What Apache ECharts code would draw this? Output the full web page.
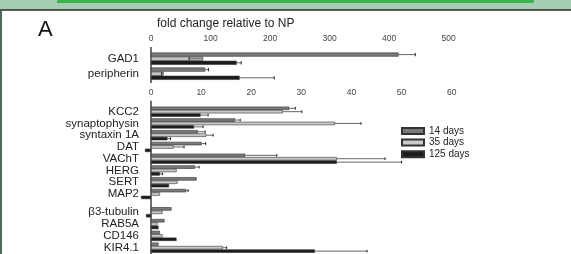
<!DOCTYPE html>
<html lang="en">
<head>
<meta charset="UTF-8">
<title>fold change relative to NP</title>
<style>
  body { margin: 0; background: #fff; }
  #chart { width: 571px; height: 254px; }
</style>
<script src="https://cdn.jsdelivr.net/npm/echarts@6.0.0/dist/echarts.min.js"></script>
</head>
<body>
<div id="chart"></div>
<script>
var days = ['14 days', '35 days', '125 days'];

// upper panel, 0-500 scale
var topGenes = ['GAD1', 'peripherin'];
var topTicks = [0, 100, 200, 300, 400, 500];
var top14 = [416, 91];
var top35 = [87.5, 21];
var top125 = [144, 149];
// where each error bar ends (null = none drawn)
var top14Err = [444, 96.5];
var top35Err = [64, 18];
var top125Err = [151.5, 207];

// lower panel, 0-60 scale (first 8 genes, then the last 4 after the gap)
var lowGenes = ['KCC2', 'synaptophysin', 'syntaxin 1A', 'DAT', 'VAChT', 'HERG', 'SERT', 'MAP2',
                'β3-tubulin', 'RAB5A', 'CD146', 'KIR4.1'];
var lowTicks = [0, 10, 20, 30, 40, 50, 60];
var low14 = [27.6, 16.8, 9.4, 10.1, 18.8, 8.8, 9.1, 7.0, 4.1, 2.7, 1.8, 1.5];
var low35 = [26.3, 36.7, 11.0, 4.5, 37.1, 5.1, 5.3, 1.8, 2.3, 1.3, 2.3, 14.3];
var low125 = [9.9, 8.6, 3.3, -1.2, 37.1, 1.8, 3.6, -2.0, -1.0, 1.5, 5.1, 32.7];
var low14Err = [28.8, 17.8, 10.8, 10.9, 25.1, 9.6, null, 7.4, null, null, null, null];
var low35Err = [30.1, 41.9, 12.4, 6.6, 46.7, null, null, null, null, null, null, 15.1];
var low125Err = [11.4, 10.4, 3.9, null, 50, 2.3, null, null, null, null, null, 43.1];

var colors = ['#7a7a7a', '#c9c9c9', '#1c1c1c'];
var font = 'Liberation Sans, Arial, sans-serif';

var chart = echarts.init(document.getElementById('chart'));

function bars(grid, vals, bw) {
    return vals.map(function (v, d) {
        return {
            name: days[d],
            type: 'bar',
            xAxisIndex: grid,
            yAxisIndex: grid,
            data: v,
            barWidth: bw,
            barGap: '0%',
            clip: false,
            silent: true,
            itemStyle: { color: colors[d], borderColor: '#333', borderWidth: 0.6 }
        };
    });
}

function errs(grid, vals, ends, bw) {
    var rows = [];
    for (var d = 0; d < ends.length; d++) {
        for (var i = 0; i < ends[d].length; i++) {
            if (ends[d][i] != null) rows.push([ends[d][i], i, vals[d][i], d]);
        }
    }
    return {
        type: 'custom',
        xAxisIndex: grid,
        yAxisIndex: grid,
        data: rows,
        encode: { x: [0, 2], y: 1 },
        clip: false,
        silent: true,
        z: 3,
        renderItem: function (params, api) {
            var p0 = api.coord([api.value(2), api.value(1)]);
            var p1 = api.coord([api.value(0), api.value(1)]);
            var y = p0[1] + (api.value(3) - 1) * bw;
            var h = bw * 0.8;
            return {
                type: 'group',
                children: [
                    { type: 'line', shape: { x1: p0[0], y1: y, x2: p1[0], y2: y },
                      style: { stroke: '#666', lineWidth: 1 } },
                    { type: 'line', shape: { x1: p1[0], y1: y - h / 2, x2: p1[0], y2: y + h / 2 },
                      style: { stroke: '#222', lineWidth: 1 } }
                ]
            };
        }
    };
}

function valueAxis(grid, ticks, offset, shown) {
    return {
        gridIndex: grid,
        type: 'value',
        position: 'top',
        show: shown,
        min: ticks[0],
        max: ticks[ticks.length - 1],
        interval: ticks[1] - ticks[0],
        offset: offset,
        axisLine: { lineStyle: { color: '#222', width: 1 } },
        axisTick: { length: 3, lineStyle: { color: '#222' } },
        axisLabel: { fontSize: 8.5, color: '#444', margin: 4, fontFamily: font },
        splitLine: { show: false }
    };
}

function catAxis(grid, names) {
    return {
        gridIndex: grid,
        type: 'category',
        inverse: true,
        data: names,
        axisLine: { show: false },
        axisTick: { show: false },
        axisLabel: { interval: 0, fontSize: 11.5, color: '#222', margin: 12, fontFamily: font }
    };
}

var midN = 8;
function head(a) { return a.slice(0, midN); }
function tail(a) { return a.slice(midN); }

var option = {
    animation: false,
    title: [
        { text: 'A', left: 33, top: 14, textStyle: { fontSize: 22, fontWeight: 'normal', color: '#111', fontFamily: font } },
        { text: 'fold change relative to NP', left: 152, top: 13, textStyle: { fontSize: 12, fontWeight: 'normal', color: '#222', fontFamily: font } }
    ],
    legend: {
        data: days,
        orient: 'vertical',
        left: 401,
        top: 126,
        padding: 0,
        itemWidth: 22,
        itemHeight: 6,
        itemGap: 1.6,
        icon: 'rect',
        textStyle: { fontSize: 10, lineHeight: 7, color: '#222', fontFamily: font }
    },
    grid: [
        { left: 151, width: 297.6, top: 51.2, height: 30, containLabel: false, outerBoundsMode: 'none' },
        { left: 151, width: 300.7, top: 105.8, height: 94.1, containLabel: false, outerBoundsMode: 'none' },
        { left: 151, width: 300.7, top: 206.4, height: 47.2, containLabel: false, outerBoundsMode: 'none' }
    ],
    xAxis: [
        valueAxis(0, topTicks, 4.2, true),
        valueAxis(1, lowTicks, 5.1, true),
        valueAxis(2, lowTicks, 0, false)
    ],
    yAxis: [
        catAxis(0, topGenes),
        catAxis(1, head(lowGenes)),
        catAxis(2, tail(lowGenes))
    ],
    graphic: [
        { type: 'rect', shape: { x: 0, y: 0, width: 571, height: 10 }, style: { fill: '#a5cdb1' } },
        { type: 'rect', shape: { x: 57, y: 0, width: 477, height: 3 }, style: { fill: '#3bb54a' } },
        { type: 'line', shape: { x1: 0, y1: 10, x2: 571, y2: 10 }, style: { stroke: '#2a2a2a', lineWidth: 1.5 } },
        { type: 'line', shape: { x1: 1, y1: 10, x2: 1, y2: 254 }, style: { stroke: '#4b6a57', lineWidth: 2 } },
        // y axis lines
        { type: 'line', shape: { x1: 151, y1: 47, x2: 151, y2: 83 }, style: { stroke: '#222', lineWidth: 1.3 } },
        { type: 'line', shape: { x1: 151, y1: 100.7, x2: 151, y2: 254 }, style: { stroke: '#222', lineWidth: 1.3 } }
    ],
    series: []
};

option.series = option.series
    .concat(bars(0, [top14, top35, top125], 4.1))
    .concat(bars(1, [head(low14), head(low35), head(low125)], 3.4))
    .concat(bars(2, [tail(low14), tail(low35), tail(low125)], 3.4))
    .concat([
        errs(0, [top14, top35, top125], [top14Err, top35Err, top125Err], 4.1),
        errs(1, [head(low14), head(low35), head(low125)], [head(low14Err), head(low35Err), head(low125Err)], 3.4),
        errs(2, [tail(low14), tail(low35), tail(low125)], [tail(low14Err), tail(low35Err), tail(low125Err)], 3.4)
    ]);

chart.setOption(option);
</script>
</body>
</html>
